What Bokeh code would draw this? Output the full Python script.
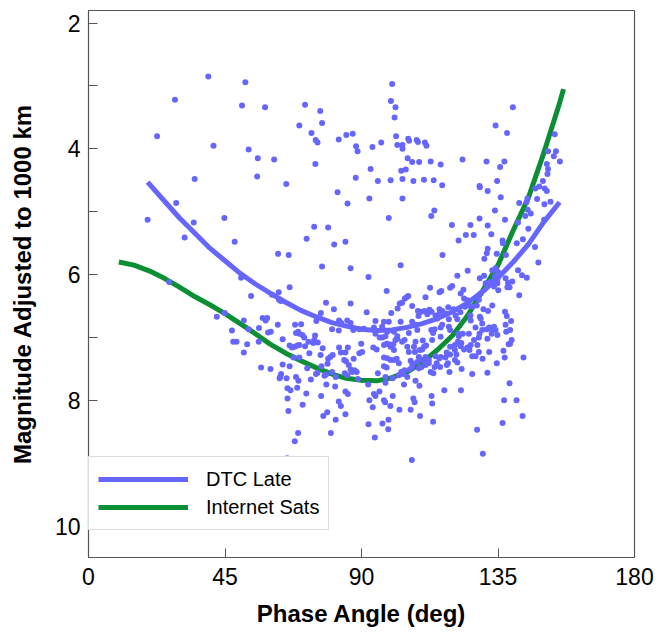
from bokeh.plotting import figure
from bokeh.models import Range1d, FixedTicker, Legend, LegendItem
from bokeh.embed import file_html
from bokeh.resources import INLINE

# ---------------- data ----------------
x_ticks = [0, 45, 90, 135, 180]
y_ticks = [2, 4, 6, 8, 10]
y_minor = [3, 5, 7, 9]

# DTC Late observations: phase angle (deg)
phase = [
    39.5, 51.7, 28.5, 50.6, 58.2, 69.5, 22.6, 41.2, 52.8, 55.8, 61.2, 35.0, 55.6, 65.2, 28.9, 19.5, 34.7, 44.8, 31.7, 48.2, 62.5, 66.0,
    100.1, 71.4, 76.4, 99.7, 101.2, 100.9, 77.0, 73.5, 74.9, 75.5, 82.5, 85.0, 87.1, 88.2, 88.7, 93.6, 96.5, 101.4, 101.8, 103.5, 103.5,
    105.4, 105.7, 108.2, 108.6, 110.9, 111.4, 105.2, 106.7, 109.0, 112.8, 116.1, 123.3, 103.1, 104.6, 93.0, 74.8, 88.1, 95.4, 99.6, 103.5,
    107.1, 110.6, 113.8, 116.6, 128.9, 82.1, 85.4, 92.6, 103.5, 114.0, 113.0, 99.0, 119.8, 125.9, 128.9, 124.4, 127.0, 122.0, 74.4, 79.0,
    71.9, 81.0, 84.7, 116.7,
    139.9, 134.2, 138.0, 153.7, 131.2, 137.1, 135.7, 151.5, 154.1, 153.4, 155.4, 151.1, 151.5, 151.3, 149.8, 134.7, 129.0, 131.6, 147.3,
    148.6, 150.4, 151.1, 135.9, 144.7, 144.4, 142.0, 147.9, 150.3, 152.3, 144.8, 145.8, 144.0, 134.0, 137.3, 141.6, 150.2, 131.6, 145.0,
    132.8, 136.5, 136.6, 141.2, 143.2, 147.2, 131.6, 131.3, 134.6, 137.6, 130.5,
    77.0, 86.4, 26.6, 50.3, 66.3, 53.6, 62.7, 60.5, 62.8, 63.4, 78.3, 86.4, 76.6, 80.9, 42.3, 44.9, 51.2, 47.3, 52.8, 47.7, 48.8, 52.3,
    51.2, 56.2, 57.4, 58.4, 58.9, 59.2, 60.1, 62.4, 56.1, 64.0, 56.9, 60.0, 63.2, 63.0, 63.5, 64.0, 66.3, 65.3, 65.6, 66.6, 65.6, 68.8,
    68.4, 69.2, 71.8, 70.6, 65.9, 69.1, 68.0, 65.5, 76.7, 79.9, 77.4, 78.7, 81.5, 82.5, 83.2, 84.7, 84.7, 85.5, 78.4, 81.3, 73.3, 75.0,
    75.5, 77.8, 78.3, 80.3, 81.5, 72.1, 76.8, 78.8, 66.3, 67.1, 68.0, 68.9, 69.5, 67.6, 69.5, 71.4, 72.5, 74.1, 74.4, 74.7, 75.6, 72.8,
    77.2, 76.5, 79.0, 79.7, 80.5, 82.6, 85.5, 83.2, 84.7, 84.3, 84.9, 87.4, 89.3, 85.8, 86.4, 86.9, 87.7, 88.4, 84.5, 85.3, 88.8, 68.1,
    68.4, 69.1, 69.5, 70.5, 71.1, 70.1, 82.6, 83.3, 85.3, 86.4, 80.3, 82.5, 87.3, 89.3, 75.1,
    102.9, 148.3, 92.3, 121.6, 125.0, 129.0, 130.4, 133.1, 134.2, 135.0, 133.9, 134.8, 133.1, 132.4, 137.5, 138.3, 138.1, 138.8, 139.7,
    141.6, 142.9, 144.5, 142.0, 133.1, 135.1, 98.3, 112.6, 115.7, 116.3, 119.2, 119.9, 123.6, 111.1, 104.9, 105.4, 104.3, 102.6, 103.4,
    106.7, 101.9, 99.8, 91.7, 108.6, 109.7, 110.8, 112.4, 113.1, 108.8, 111.7, 115.7, 116.6, 115.7, 118.6, 120.3, 121.0, 122.6, 124.1,
    125.5, 126.5, 128.0, 128.7, 125.9, 129.0, 130.2, 131.7, 137.3, 137.9, 139.3, 137.5, 137.7, 139.0, 139.5, 139.0, 138.5, 136.8, 137.2,
    143.4, 134.6, 138.8, 137.0, 141.1, 143.1, 136.5, 128.1, 130.0, 106.6, 122.8, 117.3, 131.5, 126.5, 129.9, 132.1, 128.7, 127.6, 126.5,
    125.6, 124.9, 122.7, 123.8, 122.9, 121.8, 122.1, 123.4, 121.9, 120.8, 120.8, 121.3, 120.8, 121.6, 123.0, 119.2, 119.2, 118.1, 117.7,
    118.5, 118.1, 119.0, 116.1, 115.7, 114.4, 114.8, 114.1, 115.9, 112.8, 113.7, 113.1, 113.3, 113.6, 109.3, 109.1, 107.8, 104.0, 107.1,
    107.5, 106.2, 102.5, 99.5, 100.3, 97.4, 97.8, 95.9, 94.6, 94.1, 92.6, 93.7, 92.3, 96.9, 98.9, 98.8, 94.4, 92.2, 97.9, 95.4, 97.9,
    100.3, 102.3, 103.8, 105.1, 105.9, 106.7, 108.9, 109.8, 111.1, 112.2, 103.1, 104.2, 97.4, 98.3, 99.6, 100.7, 101.6, 102.3, 97.4,
    98.5, 106.2, 106.7, 108.4, 110.0, 111.1, 112.2, 111.7, 108.9, 109.2, 110.6, 111.3, 110.0, 107.3, 107.8, 110.2, 107.6, 105.6, 105.1,
    103.4, 104.2, 101.2, 101.8, 100.5, 99.6, 99.0, 97.4, 98.3, 100.7, 93.9, 95.0, 96.0, 96.9, 97.9, 89.9, 90.2, 90.8, 94.1, 94.6, 94.6,
    97.4, 99.0, 102.9, 96.8, 98.5, 100.7, 101.8, 105.6, 106.7, 107.8, 108.4, 113.0, 113.6, 114.1, 116.1, 116.6, 119.2, 118.8, 115.0,
    118.8, 121.6, 114.4, 117.7, 116.1, 113.3, 125.4, 127.6, 128.9, 129.8, 131.3, 132.1, 132.9, 133.7, 134.2, 134.8, 131.5, 132.9, 128.7,
    127.1, 126.0, 128.2, 129.8, 129.3, 126.0, 129.3, 130.9, 132.6, 133.7, 134.8, 122.7, 123.8, 124.9,
]

# DTC Late observations: magnitude adjusted to 1000 km
mag = [
    2.85, 2.94, 3.22, 3.31, 3.34, 3.63, 3.80, 3.95, 4.01, 4.15, 4.17, 4.48, 4.44, 4.56, 4.86, 5.13, 5.17, 5.10, 5.41, 5.48, 5.67, 5.69,
    2.97, 3.30, 3.40, 3.24, 3.34, 3.50, 3.59, 3.75, 3.86, 3.90, 3.85, 3.78, 3.76, 3.96, 4.04, 3.97, 3.90, 3.80, 3.94, 3.94, 4.00,
    3.84, 3.87, 3.86, 3.89, 3.90, 3.95, 4.15, 4.21, 4.21, 4.20, 4.25, 4.17, 4.35, 4.33, 4.32, 4.24, 4.46, 4.51, 4.50, 4.48,
    4.51, 4.49, 4.50, 4.58, 4.59, 4.69, 4.87, 4.79, 4.79, 4.98, 5.07, 5.10, 5.21, 5.21, 5.11, 5.37, 5.37, 5.46, 5.24, 5.25,
    5.43, 5.52, 5.48, 5.69,
    3.34, 3.63, 3.75, 3.77, 4.20, 4.20, 4.29, 4.04, 4.04, 4.12, 4.20, 4.24, 4.32, 4.40, 4.51, 4.51, 4.61, 4.67, 4.63,
    4.60, 4.63, 4.67, 4.77, 4.79, 4.85, 4.86, 4.80, 4.88, 4.84, 4.97, 5.03, 5.07, 4.98, 5.13, 5.17, 5.13, 5.22, 5.27,
    5.36, 5.46, 5.50, 5.50, 5.44, 5.56, 5.59, 5.66, 5.67, 5.69, 5.75,
    5.87, 5.90, 6.12, 6.05, 6.20, 6.34, 6.28, 6.32, 6.40, 6.42, 6.45, 6.46, 6.61, 6.55, 6.67, 6.61, 6.73, 6.89, 6.87, 7.07, 7.07, 7.11,
    7.24, 6.85, 6.69, 6.73, 6.69, 6.92, 6.91, 6.80, 7.07, 7.03, 7.48, 7.50, 7.63, 7.65, 7.58, 7.43, 7.46, 7.65, 7.81, 7.84, 7.97, 7.80,
    7.63, 7.69, 7.89, 8.07, 8.17, 8.52, 8.65, 8.92, 7.93, 8.52, 8.25, 8.19, 8.31, 8.02, 8.09, 8.22, 7.86, 7.90, 7.75, 7.78, 7.67, 7.58,
    7.56, 7.61, 7.59, 7.55, 7.63, 7.49, 7.46, 7.42, 7.13, 7.16, 7.15, 7.13, 7.12, 7.32, 7.32, 7.14, 7.07, 7.09, 7.04, 6.97, 7.08, 7.25,
    7.17, 7.28, 7.34, 7.31, 7.28, 7.16, 7.16, 7.24, 7.24, 7.36, 7.38, 7.34, 7.25, 7.44, 7.51, 7.55, 7.52, 7.55, 7.57, 7.60, 7.66, 6.80,
    6.93, 6.91, 6.94, 6.96, 7.00, 6.79, 6.73, 6.77, 6.73, 6.77, 6.87, 6.89, 6.88, 6.87, 6.74,
    5.85, 5.81, 6.04, 6.02, 5.94, 6.06, 6.02, 5.93, 5.90, 5.96, 6.03, 6.08, 6.12, 6.13, 6.06, 6.13, 6.20, 6.20, 6.11,
    5.93, 6.01, 6.05, 6.33, 6.49, 6.25, 6.26, 6.21, 6.28, 6.26, 6.21, 6.18, 6.24, 6.36, 6.36, 6.34, 6.38, 6.46, 6.45,
    6.50, 6.54, 6.61, 6.60, 6.58, 6.59, 6.58, 6.56, 6.59, 6.66, 6.63, 6.55, 6.58, 6.62, 6.52, 6.55, 6.65, 6.60, 6.51,
    6.49, 6.51, 6.49, 6.40, 6.65, 6.67, 6.55, 6.58, 6.59, 6.66, 6.74, 6.80, 6.91, 6.88, 7.04, 7.10, 7.11, 7.21, 7.32,
    7.32, 7.41, 7.73, 8.00, 8.00, 8.25, 8.36, 8.47, 8.85, 8.95, 7.84, 7.84, 7.56, 7.58, 7.34, 7.23, 7.23, 7.30, 7.30,
    7.20, 7.16, 7.14, 7.19, 7.09, 7.07, 6.98, 6.94, 6.94, 7.12, 7.20, 7.27, 7.36, 7.40, 7.50, 7.15, 7.27, 7.24, 7.32,
    7.41, 7.44, 7.55, 7.31, 7.33, 7.30, 7.41, 7.47, 7.47, 7.55, 7.57, 7.93, 8.05, 8.34, 8.25, 7.77, 7.69, 7.75, 7.97,
    8.03, 8.15, 8.15, 8.09, 7.93, 8.00, 8.03, 7.86, 7.93, 7.90, 8.00, 8.11, 8.38, 8.37, 8.31, 8.46, 8.59, 7.75, 7.72, 7.57, 7.63,
    7.65, 7.60, 7.58, 7.63, 7.51, 7.47, 7.49, 7.47, 7.44, 7.41, 7.55, 7.52, 7.46, 7.48, 7.36, 7.36, 7.34, 7.41, 7.32,
    7.33, 7.37, 7.41, 7.39, 7.36, 7.31, 7.36, 7.41, 7.31, 7.20, 7.15, 7.13, 7.19, 7.15, 7.07, 7.05, 7.23, 7.23, 7.15,
    7.07, 7.04, 7.04, 7.02, 7.11, 7.15, 7.11, 7.12, 7.10, 7.20, 7.16, 7.19, 7.00, 7.00, 6.98, 7.10, 7.23, 6.86, 6.84, 6.74, 6.94,
    6.75, 6.75, 6.75, 6.83, 6.91, 6.91, 6.98, 6.93, 6.75, 6.80, 6.88, 6.88, 6.93, 6.87, 6.84, 6.80, 6.88, 6.83, 6.70,
    6.71, 6.71, 6.65, 6.62, 6.99, 7.04, 6.94, 6.84, 6.94, 6.88, 6.87, 6.84, 6.87, 6.83, 6.88, 6.96, 7.02, 6.94, 7.00,
    7.04, 7.12, 7.12, 6.78, 6.70, 6.73, 6.30, 6.14, 6.12, 6.19, 6.14, 6.30, 6.38, 6.41,
]

# Fitted curve: DTC Late
dtc_fit_x = [19.5, 25, 30, 35, 40, 45, 50, 55, 60, 65, 70, 75, 80, 85, 90, 95, 100, 105, 110, 115, 120, 125, 130, 135, 140, 145, 150, 155.3]
dtc_fit_y = [4.53, 4.83, 5.10, 5.34, 5.58, 5.78, 5.98, 6.15, 6.30, 6.44, 6.57, 6.67, 6.76, 6.82, 6.87, 6.89, 6.88, 6.84, 6.78, 6.70, 6.59, 6.45, 6.27, 6.05, 5.80, 5.52, 5.17, 4.85]

# Fitted curve: Internet Sats
int_fit_x = [10, 15, 20, 25, 30, 35, 40, 45, 50, 55, 60, 65, 70, 75, 80, 85, 90, 95, 100, 105, 110, 115, 120, 125, 130, 135, 140, 145, 150, 155, 156.6]
int_fit_y = [5.80, 5.85, 5.94, 6.06, 6.20, 6.35, 6.48, 6.62, 6.78, 6.94, 7.11, 7.25, 7.37, 7.48, 7.58, 7.65, 7.68, 7.69, 7.64, 7.55, 7.40, 7.20, 6.97, 6.65, 6.25, 5.85, 5.30, 4.78, 4.08, 3.32, 3.05]

# ---------------- styling ----------------
BLUE = "#6666ff"
GREEN = "#0b8f34"
FONT = "Liberation Sans"
AXIS_COLOR = "#555555"

p = figure(width=670, height=635, output_backend="svg", toolbar_location=None,
           x_range=Range1d(0, 180), y_range=Range1d(10.5, 1.8),
           min_border_left=88, min_border_right=36, min_border_top=10, min_border_bottom=78,
           background_fill_color="white", border_fill_color="white")

p.xgrid.visible = False
p.ygrid.visible = False
p.outline_line_color = AXIS_COLOR
p.outline_line_width = 1.2

r_int = p.line(int_fit_x, int_fit_y, line_width=5, color=GREEN, line_join="round")
r_dtc = p.line(dtc_fit_x, dtc_fit_y, line_width=5, color=BLUE, line_join="round")
p.scatter(phase, mag, size=6, fill_color=BLUE, line_color=None)

for ax in (p.xaxis[0], p.yaxis[0]):
    ax.axis_line_color = AXIS_COLOR
    ax.major_tick_line_color = AXIS_COLOR
    ax.minor_tick_line_color = AXIS_COLOR
    ax.major_tick_in = 9
    ax.major_tick_out = 0
    ax.major_label_text_font = FONT
    ax.major_label_text_font_size = "23px"
    ax.major_label_text_color = "black"
    ax.axis_label_text_font = FONT
    ax.axis_label_text_font_size = "24px"
    ax.axis_label_text_font_style = "bold"
    ax.axis_label_text_color = "black"

p.xaxis.ticker = FixedTicker(ticks=x_ticks)
p.xaxis.minor_tick_in = 0
p.xaxis.minor_tick_out = 0
p.xaxis.major_label_standoff = 10
p.xaxis.axis_label = "Phase Angle (deg)"
p.xaxis.axis_label_standoff = 12

p.yaxis.ticker = FixedTicker(ticks=y_ticks, minor_ticks=y_minor)
p.yaxis.minor_tick_in = 9
p.yaxis.minor_tick_out = 0
p.yaxis.major_label_standoff = 8
p.yaxis.axis_label = "Magnitude Adjusted to 1000 km"
p.yaxis.axis_label_standoff = 16

legend = Legend(items=[LegendItem(label="DTC Late", renderers=[r_dtc]),
                       LegendItem(label="Internet Sats", renderers=[r_int])],
                location=(0, 27), margin=0)
legend.border_line_color = "#bbbbbb"
legend.border_line_width = 1
legend.background_fill_color = "white"
legend.background_fill_alpha = 1.0
legend.label_text_font = FONT
legend.label_text_font_size = "20px"
legend.label_text_color = "black"
legend.glyph_width = 90
legend.glyph_height = 26
legend.label_height = 26
legend.spacing = 2
legend.padding = 9
legend.label_standoff = 18
p.add_layout(legend)

open("out.html", "w").write(file_html(p, INLINE))
